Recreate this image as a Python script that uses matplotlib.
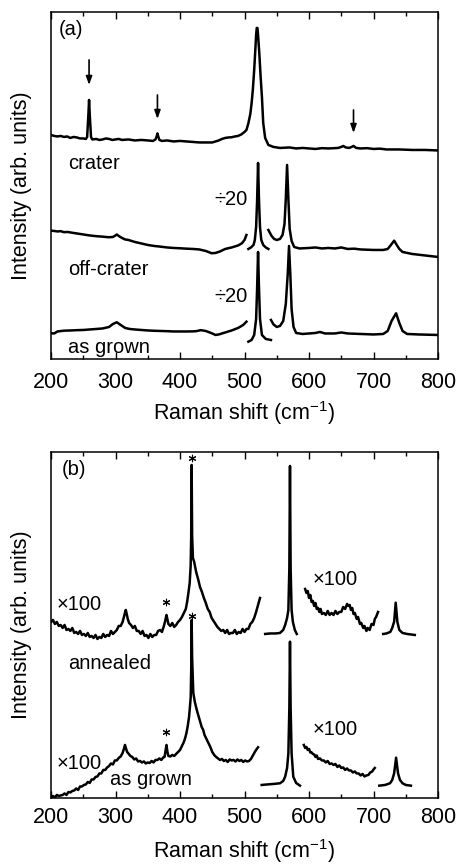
import numpy as np
import matplotlib
matplotlib.use("Agg")
import matplotlib.pyplot as plt
from matplotlib.ticker import MultipleLocator

plt.rcParams['font.family'] = ['Liberation Sans', 'DejaVu Sans']
plt.rcParams['mathtext.default'] = 'regular'

# ---- panel (a): (Raman shift, offset intensity) ----
crater = [[(200, 224), (205, 223), (210, 222.5), (215, 223), (220, 222), (225, 222.5), (230, 221),
           (235, 222), (240, 221.5), (245, 220.5), (250, 220.5), (254, 220), (256, 222), (258, 245),
           (259, 259), (260, 245), (262, 222), (264, 219.5), (270, 220), (275, 219), (280, 219.5),
           (285, 220.5), (290, 220), (295, 219), (300, 219.5), (305, 220), (310, 219), (320, 219.5),
           (330, 218.5), (340, 219), (350, 218.5), (358, 218), (362, 219.5), (364, 223), (365, 225.5),
           (366, 223), (368, 219), (372, 218), (380, 218.5), (390, 217.5), (400, 218), (410, 217.5),
           (420, 217), (430, 216.5), (440, 216.5), (450, 216.5), (455, 217.5), (460, 218.5), (465, 220),
           (470, 221), (475, 221.5), (480, 221.7), (485, 222.5), (490, 223), (495, 224.5), (500, 227),
           (503, 229), (506, 235.7), (509, 245), (511, 255.7), (513, 270), (515, 289), (517, 312),
           (518, 324), (519, 331), (520, 331), (521, 324), (523, 305), (525, 282), (527, 262),
           (529, 236), (532, 221), (537, 214), (545, 212), (555, 211), (570, 211.5), (580, 210.5),
           (590, 211), (600, 210.5), (610, 210), (620, 210.8), (630, 210.5), (640, 210.8), (645, 211),
           (650, 212), (653, 213), (657, 211.5), (662, 211), (666, 212), (669, 213), (673, 211),
           (680, 210.5), (690, 210.8), (700, 210), (710, 210.3), (720, 209.5), (740, 209.5),
           (760, 209), (780, 209), (800, 208.5)]]

offcrater = [[(200, 128.3), (205, 128), (210, 127.5), (215, 127.8), (220, 126.8), (226, 127), (232, 126.3),
              (240, 125.5), (250, 124.5), (260, 123.5), (270, 122.8), (280, 122.3), (290, 121.7),
              (296, 122), (300, 123.5), (302, 124.5), (305, 123), (310, 121), (315, 119.5), (320, 119),
              (330, 117), (340, 115.5), (350, 114), (360, 113), (370, 112.3), (380, 111.5), (390, 111),
              (400, 110.7), (410, 110.3), (420, 110), (430, 109.5), (440, 108), (449, 105.7),
              (455, 106), (462, 107.5), (470, 110), (480, 111.5), (490, 113.5), (496, 115.7),
              (500, 119), (503, 124)],
             [(506, 110), (510, 111.5), (514, 114), (516, 119), (518, 132), (519.5, 158), (521, 196),
              (522.5, 158), (524, 132), (526, 119), (529, 114), (533, 111.5), (537, 110)],
             [(537, 129), (542, 123), (546, 120), (550, 119), (555, 120), (559, 124), (562, 135),
              (564, 160), (566, 194), (568, 160), (570, 130), (573, 118), (577, 112), (585, 110.5),
              (600, 111), (610, 111.5), (620, 110.5), (630, 111), (640, 110.5), (650, 111.5),
              (660, 110), (670, 110.3), (680, 109.5), (700, 109), (715, 109), (722, 110), (727, 114),
              (732, 118.3), (736, 114), (740, 110), (745, 107), (760, 105), (780, 103.5), (800, 102)]]

asgrown_a = [[(200, 25.7), (205, 25.5), (210, 27.5), (220, 28.3), (230, 28.5), (240, 28.8), (250, 29),
              (260, 29.5), (270, 30), (280, 30.5), (290, 32), (296, 35), (302, 36.7), (308, 34),
              (315, 31), (322, 30), (330, 29.5), (340, 29), (350, 28.5), (360, 28.2), (370, 28),
              (380, 27.8), (390, 27.5), (400, 27.5), (410, 27.5), (420, 27.6), (425, 27.8), (432, 28.8),
              (440, 28), (446, 26.5), (450, 25.5), (455, 24), (460, 24.5), (470, 26.5), (480, 28.5),
              (490, 31), (498, 34), (503, 37.3)],
             [(506, 17.3), (511, 19), (515, 24), (518, 40), (519.5, 70), (521, 107), (522.5, 70),
              (524, 40), (527, 24), (533, 20), (541, 19)],
             [(541, 39), (545, 34.5), (550, 32), (555, 33), (560, 38), (564, 55), (567, 85), (569, 113),
              (571, 85), (573, 50), (576, 32), (580, 26), (590, 25), (600, 25.5), (610, 26), (617, 27),
              (625, 25.5), (640, 25.5), (650, 26.5), (660, 25.5), (680, 25), (700, 24.5), (715, 25),
              (722, 28), (728, 38), (735, 45.7), (740, 36), (745, 28), (752, 25), (770, 24.5),
              (800, 24)]]

arrow_x = [259, 365, 669]
arrow_top = [299, 264, 249]
arrow_tip = [274, 240, 226]

# ---- panel (b) ----
annealed = [[(200, 176), (203, 178), (206, 174), (209, 176), (212, 172), (215, 173), (218, 170), (221, 173),
             (224, 168), (227, 169), (230, 167), (233, 170), (236, 165), (239, 166), (242, 164),
             (245, 167), (248, 163), (251, 164), (254, 162), (257, 165), (260, 161), (263, 162),
             (266, 160), (269, 163), (272, 159), (275, 161), (278, 160), (281, 164), (284, 161),
             (287, 163), (290, 162), (293, 167), (296, 164), (299, 166), (302, 168), (305, 172),
             (308, 172), (311, 176), (313, 181), (315, 186), (316, 188), (317, 185), (319, 179),
             (321, 175), (324, 173), (327, 170), (330, 172), (333, 167), (336, 167), (339, 164),
             (342, 167), (345, 162), (348, 163), (351, 160), (354, 164), (357, 161), (360, 163),
             (363, 163), (366, 167), (369, 168), (372, 166), (375, 172), (377, 177), (379, 183),
             (380, 180), (382, 174), (385, 172), (388, 175), (391, 171), (394, 173), (397, 176),
             (400, 178), (403, 181), (406, 185), (409, 189), (411, 196), (413, 205), (415, 215),
             (416.5, 232), (417.3, 260), (418, 333), (418.8, 262), (420, 240), (422, 236), (425, 226),
             (428, 219), (431, 211), (434, 206), (437, 200), (440, 195), (443, 189), (446, 186),
             (449, 180), (452, 177), (455, 174), (458, 171), (461, 169), (464, 167), (467, 168),
             (470, 165), (473, 168), (476, 164), (479, 165), (482, 165), (485, 168), (488, 164),
             (491, 166), (494, 165), (497, 169), (500, 166), (503, 169), (506, 169), (509, 174),
             (512, 176), (515, 180), (518, 186), (521, 193), (524, 200)],
            [(532, 164), (540, 164.5), (548, 164.5), (555, 165), (560, 168), (563, 173), (566, 180),
             (568, 188), (569.5, 230), (570.5, 332), (571.5, 230), (573, 188), (575, 176), (578, 168),
             (581, 164)],
            [(594, 209), (596, 205), (598, 207), (600, 200), (602, 203), (604, 196), (606, 197),
             (608, 192), (610, 195), (612, 189), (614, 190), (616, 186), (618, 189), (620, 184),
             (623, 185), (626, 183), (629, 187), (632, 183), (635, 185), (638, 183), (641, 187),
             (644, 184), (647, 186), (650, 186), (653, 191), (656, 189), (659, 194), (661, 192),
             (663, 193), (665, 188), (667, 190), (669, 184), (671, 185), (674, 179), (676, 181),
             (679, 174), (681, 175), (684, 170), (686, 172), (689, 167), (691, 170), (694, 168),
             (697, 174), (700, 173), (702, 179), (704, 181), (707, 186)],
            [(715, 164), (720, 164.5), (726, 166), (729, 170), (732, 176.3), (734.4, 195.3), (737, 176),
             (740, 168), (745, 165), (752, 164), (764, 163)]]

asgrown_b = [[(200, 0), (203, 2), (206, 0.5), (209, 3), (212, 2), (215, 2.5), (218, 3), (221, 4.5),
              (224, 3), (227, 6), (230, 5.5), (233, 7), (236, 7.5), (239, 9.5), (242, 8), (245, 11.5),
              (248, 11.5), (251, 13), (254, 13.5), (257, 16), (260, 15), (263, 18.5), (266, 18.5),
              (269, 21), (272, 21.5), (275, 24.5), (278, 24.5), (281, 28), (284, 28), (287, 30.5),
              (290, 32), (293, 34.5), (296, 33.5), (299, 37.5), (302, 37.5), (305, 40), (308, 41.5),
              (311, 45), (313, 49), (314.7, 53), (316, 50), (318, 46), (320, 44.5), (323, 42),
              (326, 41), (329, 38.5), (332, 39.5), (335, 36.5), (338, 37), (341, 35.5), (344, 36.5),
              (347, 34.5), (350, 35.5), (353, 35), (356, 37), (359, 35.5), (362, 38), (365, 38),
              (368, 39.5), (371, 38), (374, 40.5), (376, 41), (377.5, 47), (379, 53), (380.5, 46),
              (382, 42), (385, 41.5), (388, 43), (391, 42), (394, 44), (397, 46), (400, 48), (403, 52),
              (406, 56), (408, 60), (410, 65), (412, 72), (414, 81), (415.5, 92), (416.6, 101),
              (417.4, 130), (418, 178), (418.8, 140), (420.6, 105), (423, 96), (426, 88), (430, 79),
              (433.6, 71), (436, 68), (438, 63), (441, 59), (444, 55), (447, 51), (450, 46), (453, 43),
              (456, 41), (459, 39.5), (462, 38), (465, 39), (468, 37), (471, 38), (474, 36),
              (477, 38.5), (480, 37.5), (483, 38), (486, 36.5), (489, 38.5), (492, 37), (495, 38),
              (498, 36), (501, 37.5), (504, 36.5), (507, 37), (510, 39), (513, 42.5), (516, 46),
              (519, 49), (521, 50.7)],
             [(526.6, 13), (535, 13.5), (545, 14), (555, 14.7), (560, 17), (563, 21.3), (566, 30),
              (568, 44.7), (569.5, 90), (570.5, 156.3), (571.5, 90), (573, 44.7), (575.6, 21.3),
              (580, 15), (586, 12.3)],
             [(592, 53), (594, 50), (596, 51), (598, 48), (600, 49), (602, 45.5), (604, 45.5), (606, 44),
              (608, 43.5), (610, 41), (612, 42.5), (614, 39), (617, 39.5), (620, 37.5), (623, 37.5),
              (626, 35.5), (629, 37), (632, 34), (635, 34.5), (638, 33), (641, 34), (644, 31),
              (647, 32.5), (650, 30), (653, 30.5), (656, 28), (659, 29.5), (662, 27.5), (665, 27.5),
              (668, 25.5), (671, 26.5), (674, 24.5), (677, 24.5), (680, 22.5), (683, 24), (686, 21.5),
              (689, 22.5), (692, 23), (695, 25.5), (698, 26.5), (700, 28.5), (702, 30)],
             [(709, 12.3), (718, 13), (725.6, 14.7), (729, 18), (732, 24.7), (735, 40.3), (738, 24.7),
              (741, 18), (745, 14.7), (750, 13), (758, 12.3)]]

star_x = [418, 379, 418, 379]
star_y = [340, 196, 182, 66]


def draw(ax, segments):
    for seg in segments:
        xy = np.array(seg, dtype=float)
        ax.plot(xy[:, 0], xy[:, 1], color='black', lw=1.8, solid_joinstyle='round')


def style(ax, ymax, pad, labelpad):
    ax.set_xlim(200, 800)
    ax.set_ylim(0, ymax)
    ax.set_yticks([])
    ax.xaxis.set_major_locator(MultipleLocator(100))
    ax.xaxis.set_minor_locator(MultipleLocator(50))
    ax.tick_params(axis='x', which='both', direction='in', top=True, width=1, labelsize=15.5, pad=pad)
    ax.tick_params(axis='x', which='major', length=5)
    ax.tick_params(axis='x', which='minor', length=3)
    for s in ax.spines.values():
        s.set_linewidth(1.1)
    ax.set_xlabel('Raman shift (cm$^{-1}$)', fontsize=15.5, labelpad=labelpad)
    ax.set_ylabel('Intensity (arb. units)', fontsize=15.5)
    ax.yaxis.set_label_coords(-0.048, 0.5)


fig = plt.figure(figsize=(4.6, 8.65), dpi=100)
ax1 = fig.add_axes([0.1109, 0.585, 0.8413, 0.4012])
ax2 = fig.add_axes([0.1109, 0.0775, 0.8413, 0.4])

draw(ax1, crater)
draw(ax1, offcrater)
draw(ax1, asgrown_a)
for x, y0, y1 in zip(arrow_x, arrow_top, arrow_tip):
    ax1.annotate('', xy=(x, y1), xytext=(x, y0),
                 arrowprops=dict(arrowstyle='-|>,head_length=0.5,head_width=0.18',
                                 color='black', lw=1.2, shrinkA=0, shrinkB=0))
style(ax1, 347, pad=9.5, labelpad=4.5)
fs = 14.5
ax1.text(212, 329, '(a)', fontsize=fs, va='center')
ax1.text(226, 195.7, 'crater', fontsize=fs, va='center')
ax1.text(226, 89, 'off-crater', fontsize=fs, va='center')
ax1.text(226, 11, 'as grown', fontsize=fs, va='center')
ax1.text(505, 159, '÷20', fontsize=fs, va='center', ha='right')
ax1.text(505, 62, '÷20', fontsize=fs, va='center', ha='right')

draw(ax2, annealed)
draw(ax2, asgrown_b)
ax2.scatter(star_x, star_y, marker=(6, 2, 0), s=22, color='black', linewidths=0.8)
style(ax2, 346, pad=6.5, labelpad=6.5)
ax2.text(216.6, 328, '(b)', fontsize=fs, va='center')
ax2.text(209, 193, '×100', fontsize=fs, va='center')
ax2.text(605, 218, '×100', fontsize=fs, va='center')
ax2.text(226, 134.7, 'annealed', fontsize=fs, va='center')
ax2.text(209, 34.7, '×100', fontsize=fs, va='center')
ax2.text(291.5, 18, 'as grown', fontsize=fs, va='center')
ax2.text(605, 68, '×100', fontsize=fs, va='center')

fig.savefig('out.png', dpi=100)
